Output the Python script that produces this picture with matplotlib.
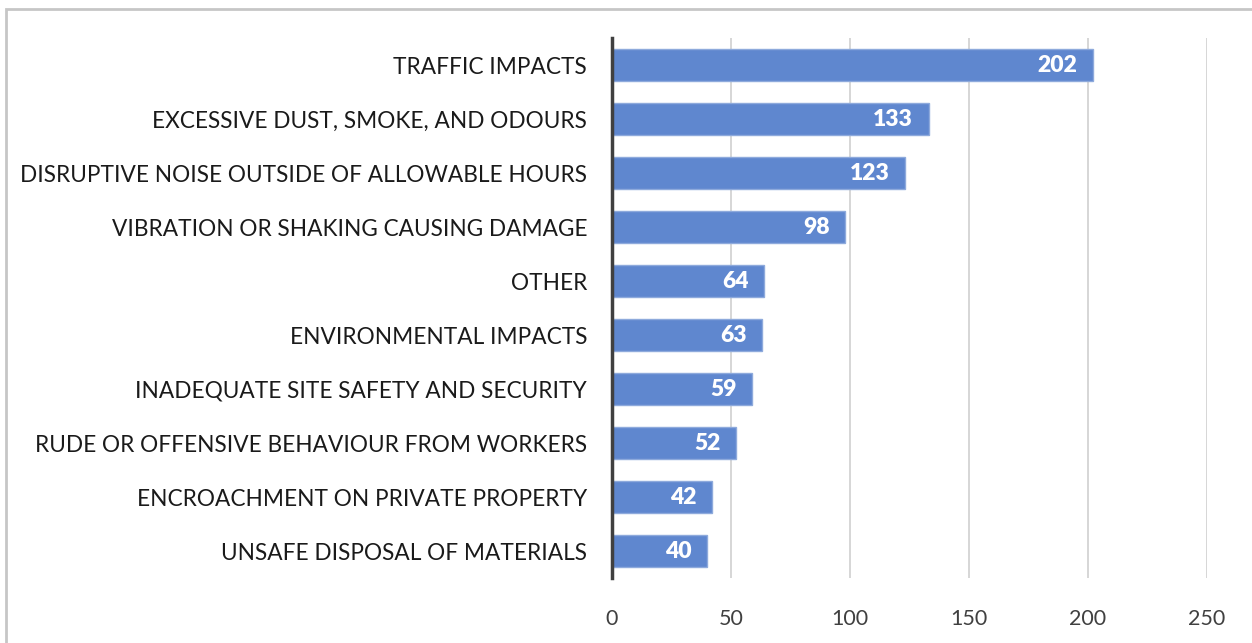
import matplotlib
matplotlib.use("Agg")
import matplotlib.pyplot as plt
from matplotlib.patches import Rectangle

categories = [
    "TRAFFIC IMPACTS",
    "EXCESSIVE DUST, SMOKE, AND ODOURS",
    "DISRUPTIVE NOISE OUTSIDE OF ALLOWABLE HOURS",
    "VIBRATION OR SHAKING CAUSING DAMAGE",
    "OTHER",
    "ENVIRONMENTAL IMPACTS",
    "INADEQUATE SITE SAFETY AND SECURITY",
    "RUDE OR OFFENSIVE BEHAVIOUR FROM WORKERS",
    "ENCROACHMENT ON PRIVATE PROPERTY",
    "UNSAFE DISPOSAL OF MATERIALS",
]
counts = [202, 133, 123, 98, 64, 63, 59, 52, 42, 40]
xticks = [0, 50, 100, 150, 200, 250]

plt.rcParams['font.family'] = ['Lato', 'DejaVu Sans']

fig = plt.figure(figsize=(12.52, 6.43), dpi=100)
ax = fig.add_axes([612/1252, 1 - 578/643, 595/1252, 540/643])

# light grey frame round the chart
fig.patches.append(Rectangle((6/1252, -0.1), 1.2, 1 - 9/643 + 0.1, transform=fig.transFigure,
                             fill=False, edgecolor="#c6c6c6", linewidth=2))

ypos = list(range(len(categories)))
bars = ax.barh(ypos, counts, height=0.6, color="#5f87cf", edgecolor="#8eaadc", linewidth=1, zorder=3)
for b, v in zip(bars, counts):
    ax.text(v - 6.5, b.get_y() + b.get_height() / 2, str(v), ha="right", va="center",
            color="white", fontsize=16.5, fontweight="heavy", zorder=4)

ax.set_ylim(len(categories) - 0.5, -0.5)
ax.set_xlim(0, 250)
ax.set_yticks(ypos)
ax.set_yticklabels(categories, fontsize=16.3, color="#1a1a1a")
ax.set_xticks(xticks)
ax.set_xticklabels([str(t) for t in xticks], fontsize=15.5, color="#404040")
ax.tick_params(axis="y", length=0, pad=18)
ax.tick_params(axis="x", length=0, pad=22)
ax.grid(axis="x", color="#d0d0d0", linewidth=1.2, zorder=0)
for s in ["top", "right", "bottom"]:
    ax.spines[s].set_visible(False)
ax.spines["left"].set_color("#404040")
ax.spines["left"].set_linewidth(2.5)
ax.spines["left"].set_zorder(5)

fig.savefig("out.png", dpi=100)
